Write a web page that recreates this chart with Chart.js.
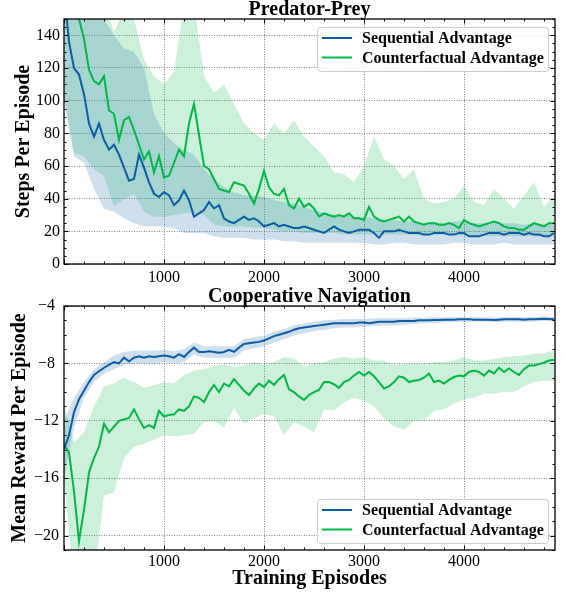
<!DOCTYPE html>
<html>
<head>
<meta charset="utf-8">
<script src="https://cdn.jsdelivr.net/npm/chart.js@4.4.0/dist/chart.umd.min.js"></script>
<style>
  html, body { margin: 0; padding: 0; background: #fff; }
  #wrap { position: relative; width: 566px; height: 594px; }
  canvas { position: absolute; left: 0; }
  #pp { top: 0; }
  #cn { top: 282px; }
</style>
</head>
<body>
<div id="wrap">
  <canvas id="pp" width="566" height="282"></canvas>
  <canvas id="cn" width="566" height="312"></canvas>
</div>
<script>
// episodes: line samples every 50, band samples every 100
const episodes = Array.from({ length: 99 }, (_, i) => i * 50);
const bandEpisodes = Array.from({ length: 50 }, (_, i) => i * 100);

const labelSeq = 'Sequential Advantage';
const labelCf = 'Counterfactual Advantage';

// Predator-Prey, steps per episode
const ppSeq = [
  168, 136, 120, 116, 104, 86, 78, 86, 76, 70,
  73, 67, 59, 51, 52, 67, 59, 50, 43, 41,
  44, 42, 36, 39, 45, 39, 29, 31, 33, 38,
  34, 36, 28, 26, 25, 27, 29, 27, 28, 26,
  23, 24, 25, 23, 24, 23, 22, 22, 23, 22,
  21, 20, 19, 21, 23, 21, 20, 19, 20, 21,
  21, 21, 19, 16, 20, 20, 20, 21, 20, 19,
  19, 19, 18, 18, 19, 19, 19, 18, 18, 19,
  19, 17, 17, 17, 18, 19, 19, 19, 18, 19,
  19, 19, 18, 19, 18, 18, 17, 17, 19
];
const ppCf = [
  175, 165, 158, 150, 138, 119, 112, 110, 115, 94,
  92, 76, 88, 90, 82, 73, 64, 69, 56, 66,
  53, 54, 62, 70, 66, 86, 98, 79, 60, 58,
  52, 46, 45, 44, 50, 49, 48, 43, 37, 46,
  57, 47, 43, 42, 46, 36, 34, 40, 35, 37,
  34, 29, 31, 30, 29, 30, 29, 31, 28, 28,
  27, 35, 29, 27, 26, 27, 28, 29, 26, 29,
  26, 25, 24, 25, 25, 24, 24, 25, 24, 22,
  27, 25, 24, 23, 24, 25, 26, 25, 23, 22,
  22, 21, 21, 23, 25, 24, 23, 25, 25
];
const ppSeqHi = [
  160, 158, 155, 152, 150, 140, 132, 130, 120, 92,
  80, 74, 70, 67, 58, 52, 47, 44, 42, 42,
  41, 39, 38, 37, 35, 33, 31, 30, 30, 29,
  29, 28, 27, 27, 26, 26, 25, 26, 25, 26,
  26, 25, 25, 26, 25, 25, 24, 25, 24, 24
];
const ppSeqLo = [
  100, 66, 62, 46, 34, 32, 28, 25, 23, 23,
  23, 22, 19, 19, 19, 17, 16, 16, 16, 15,
  15, 15, 14, 14, 13, 13, 13, 13, 13, 13,
  13, 12, 12, 13, 13, 12, 12, 12, 12, 13,
  13, 12, 12, 12, 13, 12, 12, 12, 12, 12
];
const ppCfHi = [
  170, 170, 165, 165, 160, 142, 155, 150, 125, 115,
  110, 118, 158, 160, 115, 105, 110, 98, 86, 80,
  76, 86, 80, 88, 78, 72, 66, 56, 55, 50,
  60, 78, 64, 60, 52, 58, 40, 37, 38, 40,
  48, 38, 36, 46, 40, 34, 42, 50, 35, 42
];
const ppCfLo = [
  104, 68, 66, 58, 54, 35, 40, 43, 32, 29,
  29, 30, 31, 31, 30, 24, 23, 23, 23, 22,
  22, 21, 20, 20, 19, 19, 19, 19, 18, 18,
  18, 18, 18, 18, 18, 18, 17, 18, 18, 18,
  17, 17, 17, 17, 17, 17, 17, 17, 17, 17
];

// Cooperative Navigation, mean reward per episode
const cnSeq = [
  -14.0, -13.0, -11.4, -10.5, -9.9, -9.3, -8.8, -8.55, -8.3, -8.1,
  -7.9, -8.0, -7.6, -7.85, -7.6, -7.5, -7.6, -7.5, -7.55, -7.5,
  -7.45, -7.5, -7.6, -7.35, -7.55, -7.2, -6.9, -7.2, -7.2, -7.15,
  -7.2, -7.25, -7.2, -7.05, -7.2, -6.9, -6.65, -6.6, -6.55, -6.5,
  -6.4, -6.25, -6.1, -6.0, -5.9, -5.8, -5.65, -5.55, -5.5, -5.45,
  -5.4, -5.35, -5.3, -5.25, -5.2, -5.2, -5.2, -5.2, -5.2, -5.15,
  -5.15, -5.2, -5.15, -5.1, -5.1, -5.1, -5.1, -5.05, -5.05, -5.05,
  -5.05, -5.0, -5.0, -5.0, -4.98, -4.97, -4.95, -4.95, -4.95, -4.93,
  -4.93, -4.93, -4.95, -4.95, -4.95, -4.95, -4.97, -4.95, -4.93, -4.93,
  -4.92, -4.92, -4.95, -4.92, -4.92, -4.9, -4.88, -4.9, -4.93
];
const cnCf = [
  -13.7, -14.2, -16.9, -20.4, -18.2, -15.6, -14.6, -13.8, -12.2, -12.8,
  -12.4, -12.0, -11.9, -11.8, -11.2, -11.9, -12.5, -12.3, -12.5, -11.3,
  -11.7, -11.6, -11.55, -11.2, -11.3, -11.0, -10.3, -10.4, -10.7, -10.0,
  -9.5, -10.0, -9.4, -9.6, -9.1, -9.5, -9.9, -10.2, -9.75, -9.4,
  -9.65, -9.2, -9.5, -9.1, -8.8, -9.8, -10.0, -10.3, -10.55, -10.2,
  -10.0, -9.85, -9.3, -9.3, -9.45, -9.7, -9.3, -9.15, -8.85, -8.6,
  -8.85, -8.6, -8.9, -9.3, -9.75, -9.6, -9.3, -8.9, -9.0, -9.3,
  -9.2, -9.15, -9.0, -8.7, -9.3, -9.2, -9.4, -9.15, -8.95, -8.85,
  -8.9, -8.6, -8.5, -8.6, -8.85, -8.5, -8.7, -8.3, -8.6, -8.35,
  -8.6, -8.8, -8.4, -8.15, -8.15, -8.05, -7.95, -7.8, -7.75
];
const cnSeqHi = [
  -12.0, -10.4, -9.3, -8.4, -7.9, -7.45, -7.2, -7.1, -7.1, -7.1,
  -7.05, -7.15, -7.0, -6.55, -6.8, -6.8, -6.8, -6.8, -6.3, -6.2,
  -6.05, -5.8, -5.6, -5.35, -5.2, -5.1, -5.0, -4.95, -4.9, -4.9,
  -4.9, -4.85, -4.85, -4.85, -4.85, -4.8, -4.8, -4.78, -4.78, -4.78,
  -4.78, -4.78, -4.78, -4.8, -4.78, -4.76, -4.78, -4.76, -4.74, -4.76
];
const cnSeqLo = [
  -16.0, -12.5, -10.4, -9.3, -8.7, -8.4, -8.1, -8.0, -8.0, -8.0,
  -7.9, -8.0, -7.9, -7.4, -7.6, -7.6, -7.6, -7.6, -7.1, -6.95,
  -6.8, -6.55, -6.3, -6.05, -5.9, -5.75, -5.65, -5.55, -5.5, -5.5,
  -5.45, -5.4, -5.35, -5.35, -5.3, -5.25, -5.2, -5.18, -5.15, -5.12,
  -5.1, -5.1, -5.1, -5.12, -5.1, -5.08, -5.1, -5.08, -5.04, -5.08
];
const cnCfHi = [
  -10.8, -13.5, -12.8, -11.0, -9.6, -9.4, -9.0, -9.3, -9.7, -9.5,
  -9.3, -9.4, -8.8, -8.5, -8.4, -8.15, -8.1, -8.25, -8.15, -7.9,
  -8.1, -7.9, -7.55, -7.65, -8.2, -8.0, -7.9, -7.65, -7.55, -7.65,
  -7.55, -7.8, -7.8, -8.1, -8.0, -8.0, -8.0, -7.9, -7.9, -7.8,
  -7.55, -7.8, -7.8, -7.7, -7.55, -7.5, -7.45, -7.35, -7.3, -7.1
];
const cnCfLo = [
  -16.2, -23, -23, -23, -17.2, -17.0, -14.6, -13.8, -13.6, -13.3,
  -13.0, -13.1, -13.0, -12.9, -12.1, -12.0, -12.5, -11.1, -12.2, -11.8,
  -11.5, -11.7, -13.0, -12.1, -12.4, -12.8, -11.2, -11.3, -10.7, -10.4,
  -10.6, -11.0, -11.8, -12.4, -12.6, -12.0, -12.0, -11.3, -11.2, -10.8,
  -10.5, -10.4, -10.1, -10.1, -10.0, -10.0, -9.6, -9.3, -9.2, -9.2
];

// tick labels
const xTicks = [1000, 2000, 3000, 4000];
const ppYTicks = [0, 20, 40, 60, 80, 100, 120, 140];
const cnYTicks = [-20, -16, -12, -8, -4];

const BLUE = '#0C5DA5';
const GREEN = '#00B945';
const SERIF = '"Liberation Serif", "Times New Roman", serif';

function pts(xs, ys) {
  return xs.map((x, i) => ({ x, y: ys[i] }));
}

function lineSet(label, color, ys) {
  return {
    label, data: pts(episodes, ys), borderColor: color, borderWidth: 2,
    pointRadius: 0, fill: false, tension: 0, inLegend: true
  };
}

function bandSets(color, hi, lo) {
  return [
    { label: 'hi', data: pts(bandEpisodes, hi), borderWidth: 0, borderColor: 'transparent',
      pointRadius: 0, backgroundColor: color, fill: '+1' },
    { label: 'lo', data: pts(bandEpisodes, lo), borderWidth: 0, borderColor: 'transparent',
      pointRadius: 0, fill: false }
  ];
}

// frame + inward major/minor ticks on all four sides
const frameTicks = {
  id: 'frameTicks',
  afterDatasetsDraw(chart, args, opts) {
    const { ctx, chartArea: a, scales: { x, y } } = chart;
    ctx.save();
    ctx.strokeStyle = '#000';
    ctx.lineWidth = 1;
    const isMajor = (v, m) => Math.abs(v / m - Math.round(v / m)) < 1e-6;
    for (let i = Math.ceil(x.min / opts.xMinor); i * opts.xMinor < x.max; i++) {
      const v = i * opts.xMinor;
      const px = Math.round(x.getPixelForValue(v)) + 0.5;
      const len = isMajor(v, opts.xMajor) ? 4.5 : 2.5;
      ctx.beginPath();
      ctx.moveTo(px, a.bottom); ctx.lineTo(px, a.bottom - len);
      ctx.moveTo(px, a.top); ctx.lineTo(px, a.top + len);
      ctx.stroke();
    }
    for (let i = Math.ceil(y.min / opts.yMinor); i * opts.yMinor <= y.max; i++) {
      const v = i * opts.yMinor;
      const py = Math.round(y.getPixelForValue(v)) + 0.5;
      const len = isMajor(v, opts.yMajor) ? 4.5 : 2.5;
      ctx.beginPath();
      ctx.moveTo(a.left, py); ctx.lineTo(a.left + len, py);
      ctx.moveTo(a.right, py); ctx.lineTo(a.right - len, py);
      ctx.stroke();
    }
    ctx.lineWidth = 1.3;
    ctx.strokeRect(a.left, a.top, a.right - a.left, a.bottom - a.top);
    ctx.restore();
  }
};

// title above plot and boxed legend inside it
const boxLegend = {
  id: 'boxLegend',
  afterDraw(chart, args, opts) {
    const { ctx, chartArea: a } = chart;
    ctx.save();
    ctx.font = 'bold 20px ' + SERIF;
    ctx.fillStyle = '#000';
    ctx.textAlign = 'center';
    ctx.textBaseline = 'alphabetic';
    ctx.fillText(opts.title, (a.left + a.right) / 2, a.top - 4);

    const items = chart.data.datasets.filter(d => d.inLegend);
    const w = 231, h = 44;
    const left = a.right - 7 - w;
    const top = opts.where === 'top' ? a.top + 8 : a.bottom - 7 - h;
    ctx.fillStyle = 'rgba(255,255,255,0.85)';
    ctx.strokeStyle = '#cccccc';
    ctx.lineWidth = 1;
    ctx.beginPath();
    ctx.roundRect(left + 0.5, top + 0.5, w, h, 3);
    ctx.fill();
    ctx.stroke();
    ctx.font = 'bold 16px ' + SERIF;
    ctx.textAlign = 'left';
    ctx.textBaseline = 'middle';
    items.forEach((d, i) => {
      const yy = top + 11 + i * 19.5;
      ctx.strokeStyle = d.borderColor;
      ctx.lineWidth = 2;
      ctx.beginPath();
      ctx.moveTo(left + 5, yy);
      ctx.lineTo(left + 35, yy);
      ctx.stroke();
      ctx.fillStyle = '#000';
      ctx.fillText(d.label, left + 45, yy + 1);
    });
    ctx.restore();
  }
};

function fmt(v) {
  return v < 0 ? '\u2212' + Math.abs(v) : String(v);
}

function makeChart(id, cfg) {
  const tickFont = { family: SERIF, size: 16 };
  const titleFont = { family: SERIF, size: 20, weight: 'bold' };
  return new Chart(document.getElementById(id), {
    type: 'line',
    data: {
      datasets: [
        lineSet(labelSeq, BLUE, cfg.seq),
        lineSet(labelCf, GREEN, cfg.cf),
        ...bandSets('rgba(12,93,165,0.2)', cfg.seqHi, cfg.seqLo),
        ...bandSets('rgba(0,185,69,0.2)', cfg.cfHi, cfg.cfLo)
      ]
    },
    options: {
      responsive: false,
      animation: false,
      events: [],
      layout: { padding: { top: cfg.padTop, right: 11, left: 0, bottom: 0 } },
      plugins: {
        legend: { display: false },
        tooltip: { enabled: false },
        frameTicks: { xMinor: 200, xMajor: 1000, yMinor: cfg.yMinor, yMajor: cfg.yMajor },
        boxLegend: { title: cfg.title, where: cfg.legendAt }
      },
      scales: {
        x: {
          type: 'linear', min: 0, max: 4910,
          afterBuildTicks: s => { s.ticks = xTicks.map(v => ({ value: v })); },
          afterFit: s => { s.height = cfg.xHeight; },
          grid: { color: 'rgba(0,0,0,0.6)', lineWidth: 0.8, drawTicks: false },
          border: { display: false, dash: [1, 1.5] },
          ticks: { font: tickFont, color: '#000', padding: cfg.xPad, maxRotation: 0, callback: v => String(v) },
          title: cfg.xTitle
            ? { display: true, text: cfg.xTitle, font: titleFont, color: '#000', padding: { top: 0, bottom: 3 } }
            : { display: false }
        },
        y: {
          type: 'linear', min: cfg.yMin, max: cfg.yMax,
          afterBuildTicks: s => { s.ticks = cfg.yTicks.map(v => ({ value: v })); },
          afterFit: s => { s.width = 64; },
          grid: { color: 'rgba(0,0,0,0.6)', lineWidth: 0.8, drawTicks: false },
          border: { display: false, dash: [1, 1.5] },
          ticks: { font: tickFont, color: '#000', padding: cfg.yPad, crossAlign: cfg.crossAlign, callback: fmt },
          title: { display: true, text: cfg.yTitle, font: titleFont, color: '#000', padding: { top: cfg.yTitlePad, bottom: 0 } }
        }
      }
    },
    plugins: [frameTicks, boxLegend]
  });
}

makeChart('pp', {
  title: 'Predator-Prey', legendAt: 'top',
  seq: ppSeq, cf: ppCf, seqHi: ppSeqHi, seqLo: ppSeqLo, cfHi: ppCfHi, cfLo: ppCfLo,
  yMin: 0, yMax: 150, yTicks: ppYTicks, yMinor: 5, yMajor: 20,
  yTitle: 'Steps Per Episode', yTitlePad: 12, yPad: 4, crossAlign: 'near',
  padTop: 19, xHeight: 18, xPad: 4
});

makeChart('cn', {
  title: 'Cooperative Navigation', legendAt: 'bottom',
  seq: cnSeq, cf: cnCf, seqHi: cnSeqHi, seqLo: cnSeqLo, cfHi: cnCfHi, cfLo: cnCfLo,
  yMin: -21, yMax: -4, yTicks: cnYTicks, yMinor: 1, yMajor: 4,
  yTitle: 'Mean Reward Per Episode', yTitlePad: 7.5, yPad: 5, crossAlign: 'center',
  padTop: 24, xHeight: 44, xPad: 2, xTitle: 'Training Episodes'
});
</script>
</body>
</html>
